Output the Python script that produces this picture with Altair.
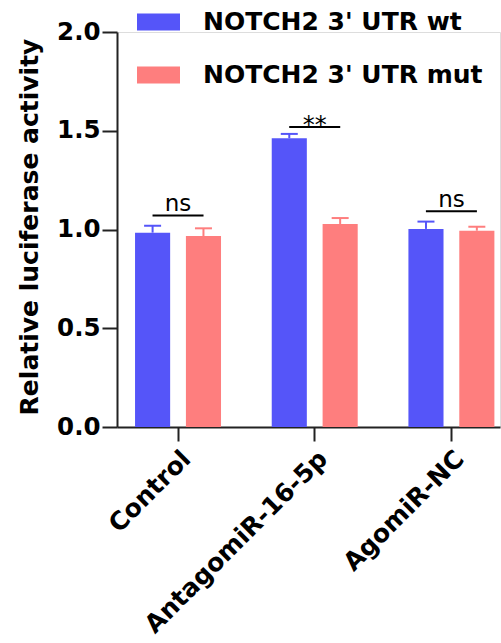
import altair as alt
import pandas as pd

groups = ["Control", "AntagomiR-16-5p", "AgomiR-NC"]
series = ["NOTCH2 3' UTR wt", "NOTCH2 3' UTR mut"]
mean_wt = [0.984, 1.462, 1.003]
err_wt = [0.035, 0.022, 0.037]
mean_mut = [0.967, 1.028, 0.994]
err_mut = [0.039, 0.030, 0.020]
sig_labels = ["ns", "**", "ns"]
sig_y = [1.071, 1.519, 1.093]
colors = ["#5555F9", "#FE7E7E"]
y_ticks = [0.0, 0.5, 1.0, 1.5, 2.0]

rows = []
for i, g in enumerate(groups):
    rows.append(dict(group=g, series=series[0], mean=mean_wt[i], upper=mean_wt[i] + err_wt[i]))
    rows.append(dict(group=g, series=series[1], mean=mean_mut[i], upper=mean_mut[i] + err_mut[i]))
df = pd.DataFrame(rows)
sig = pd.DataFrame(dict(group=groups, label=sig_labels, y=sig_y))

FONT = "DejaVu Sans"
W, H = 383, 395

x_axis = alt.Axis(
    title=None, labelAngle=315, labelFont=FONT, labelFontSize=25, labelFontWeight="bold",
    labelColor="black", labelPadding=5, tickSize=14, tickWidth=2, tickColor="#222",
    domainWidth=2, domainColor="#222", labelLimit=400,
)
x_scale = alt.Scale(paddingInner=0.371, paddingOuter=0.0865, align=0.763)


def X():
    return alt.X("group:N", sort=groups, scale=x_scale, axis=x_axis)


y_scale = alt.Scale(domain=[0, 2], nice=False, zero=True)
y_axis = alt.Axis(
    title="Relative luciferase activity", values=y_ticks, format=".1f",
    labelFont=FONT, labelFontSize=24.5, labelFontWeight="bold", labelColor="black",
    labelPadding=2, tickSize=15, tickWidth=2, tickColor="#222", domainWidth=2,
    domainColor="#222", grid=False, titleFont=FONT, titleFontSize=25,
    titleFontWeight="bold", titleColor="black", titleAngle=270, titleX=-80,
    titleY=H / 2 - 3, titleAlign="center", titleBaseline="alphabetic",
)


def Y(field):
    return alt.Y(field, type="quantitative", scale=y_scale, axis=y_axis)


xoff = alt.XOffset("series:N", sort=series, scale=alt.Scale(paddingInner=0.31, paddingOuter=0))
color = alt.Color(
    "series:N", sort=series, scale=alt.Scale(domain=series, range=colors),
    legend=alt.Legend(
        title=None, orient="none", legendX=20, legendY=-31.5, padding=0,
        symbolType="M-1,-0.39L1,-0.39L1,0.39L-1,0.39Z", symbolSize=1849,
        symbolStrokeWidth=0, symbolOpacity=1, labelFont=FONT, labelFontSize=25,
        labelFontWeight="bold", labelColor="black", labelOffset=23, rowPadding=18,
        labelLimit=400,
    ),
)

base = alt.Chart(df)
bars = base.mark_bar(opacity=1).encode(x=X(), xOffset=xoff, y=Y("mean"), color=color)
err = base.mark_rule(strokeWidth=2).encode(x=X(), xOffset=xoff, y=Y("mean"), y2="upper", color=color)
caps = base.mark_tick(thickness=2, size=17, opacity=1).encode(x=X(), xOffset=xoff, y=Y("upper"), color=color)

sbase = alt.Chart(sig)
sig_lines = sbase.mark_tick(thickness=2, size=51, color="black", opacity=1).encode(x=X(), y=Y("y"))
ns_text = sbase.transform_filter(alt.datum.label == "ns").mark_text(
    font=FONT, fontSize=23, dy=-4, baseline="alphabetic", color="black"
).encode(x=X(), y=Y("y"), text="label:N")
star_text = sbase.transform_filter(alt.datum.label == "**").mark_text(
    font=FONT, fontSize=24, dy=6, baseline="alphabetic", color="black"
).encode(x=X(), y=Y("y"), text="label:N")

chart = alt.layer(bars, err, caps, sig_lines, ns_text, star_text).properties(
    width=W, height=H,
    autosize=alt.AutoSizeParams(type="none"),
    padding={"left": 117, "top": 32, "right": 1, "bottom": 216},
).configure_view(stroke=None).configure(background="white")

chart.save("out.html", embed_options={"renderer": "svg", "actions": False})
